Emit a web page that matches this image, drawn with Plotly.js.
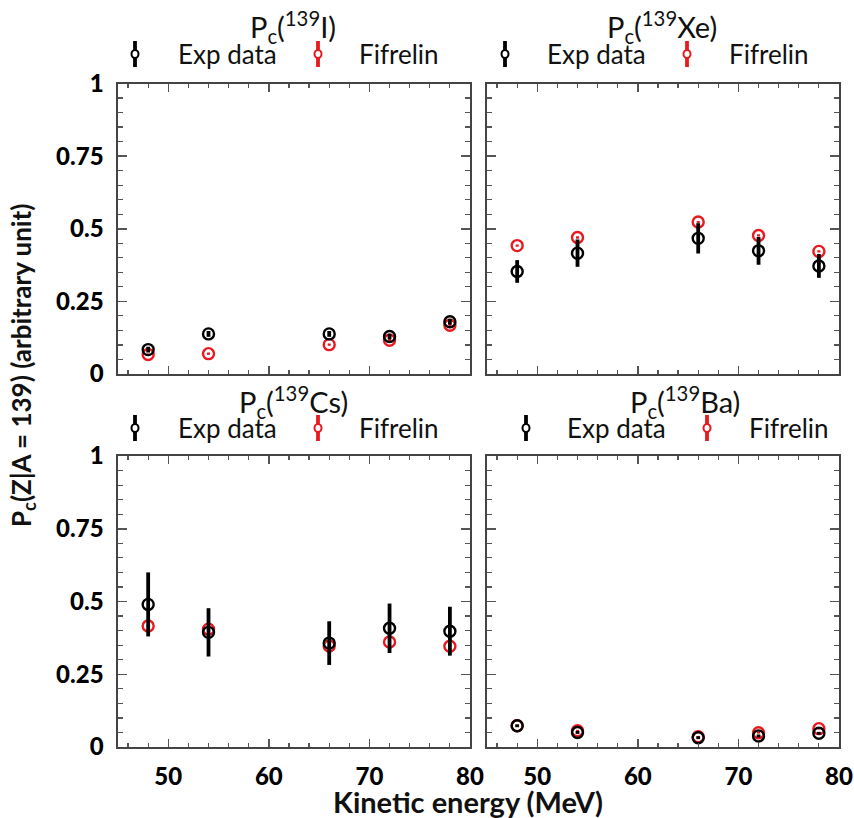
<!DOCTYPE html>
<html>
<head>
<meta charset="utf-8">
<script src="https://cdn.plot.ly/plotly-3.0.1.min.js"></script>
<style>html,body{margin:0;padding:0;background:#fff;}#chart{width:854px;height:818px;}</style>
</head>
<body>
<div id="chart"></div>
<script>
// ---- data ----
const energy = [48, 54, 66, 72, 78];

const I_exp     = [0.084, 0.138, 0.138, 0.129, 0.180];
const I_exp_err = [0.010, 0.010, 0.010, 0.010, 0.010];
const I_fif     = [0.067, 0.070, 0.101, 0.116, 0.168];
const I_fif_err = [0.004, 0.004, 0.004, 0.004, 0.004];

const Xe_exp     = [0.353, 0.416, 0.467, 0.424, 0.372];
const Xe_exp_err = [0.039, 0.047, 0.052, 0.048, 0.041];
const Xe_fif     = [0.442, 0.470, 0.523, 0.477, 0.422];
const Xe_fif_err = [0.004, 0.004, 0.004, 0.004, 0.004];

const Cs_exp     = [0.490, 0.394, 0.357, 0.408, 0.398];
const Cs_exp_err = [0.110, 0.083, 0.075, 0.085, 0.084];
const Cs_fif     = [0.416, 0.405, 0.347, 0.361, 0.346];
const Cs_fif_err = [0.004, 0.004, 0.004, 0.004, 0.004];

const Ba_exp     = [0.073, 0.050, 0.032, 0.038, 0.047];
const Ba_exp_err = [0.005, 0.005, 0.005, 0.005, 0.005];
const Ba_fif     = [0.073, 0.056, 0.035, 0.049, 0.063];
const Ba_fif_err = [0.003, 0.003, 0.003, 0.003, 0.003];

const panelTitles = ['P<sub>c</sub>(<sup>139</sup>I)', 'P<sub>c</sub>(<sup>139</sup>Xe)',
                     'P<sub>c</sub>(<sup>139</sup>Cs)', 'P<sub>c</sub>(<sup>139</sup>Ba)'];
const seriesNames = ['Exp data', 'Fifrelin'];
const yTickVals = [0, 0.25, 0.5, 0.75, 1];
const yTickText = ['0', '0.25', '0.5', '0.75', '1'];
const xTickVals = [50, 60, 70, 80];

// ---- build ----
const W = 854, H = 818;
const RED = '#e8191f';
const px = v => v / W;
const py = v => 1 - v / H;

const panels = [
  {exp: I_exp, ee: I_exp_err, fif: I_fif, fe: I_fif_err, xa: 'x', ya: 'y'},
  {exp: Xe_exp, ee: Xe_exp_err, fif: Xe_fif, fe: Xe_fif_err, xa: 'x2', ya: 'y2'},
  {exp: Cs_exp, ee: Cs_exp_err, fif: Cs_fif, fe: Cs_fif_err, xa: 'x3', ya: 'y3'},
  {exp: Ba_exp, ee: Ba_exp_err, fif: Ba_fif, fe: Ba_fif_err, xa: 'x4', ya: 'y4'}
];

const traces = [];
panels.forEach(p => {
  traces.push({
    x: energy, y: p.fif, xaxis: p.xa, yaxis: p.ya, type: 'scatter', mode: 'markers',
    name: seriesNames[1], showlegend: false, cliponaxis: false,
    marker: {symbol: 'circle-open', size: 11, color: RED, line: {width: 2.4, color: RED}},
    error_y: {type: 'data', array: p.fe, visible: true, color: RED, thickness: 3, width: 0}
  });
  traces.push({
    x: energy, y: p.exp, xaxis: p.xa, yaxis: p.ya, type: 'scatter', mode: 'markers',
    name: seriesNames[0], showlegend: false, cliponaxis: false,
    marker: {symbol: 'circle-open', size: 11, color: '#000', line: {width: 2.4, color: '#000'}},
    error_y: {type: 'data', array: p.ee, visible: true, color: '#000', thickness: 3.8, width: 0}
  });
});

const xL = [px(118), px(470)], xR = [px(487), px(839)];
const yT = [py(374), py(83.5)], yB = [py(747), py(456)];

function xax(domain, anchor, labels) {
  return {
    domain: domain, anchor: anchor, range: [45, 80], tickvals: xTickVals,
    showticklabels: labels, ticks: 'inside', ticklen: 8, tickwidth: 1.5, tickcolor: '#555',
    minor: {dtick: 2, ticks: 'inside', ticklen: 4, tickwidth: 1.2, tickcolor: '#555'},
    showline: true, linecolor: '#444', linewidth: 1.6, mirror: 'allticks',
    showgrid: false, zeroline: false, ticklabelstandoff: 8,
    tickfont: {family: 'Lato', size: 24, color: '#000', weight: 900}
  };
}
function yax(domain, anchor, labels) {
  return {
    domain: domain, anchor: anchor, range: [0, 1], tickvals: yTickVals, ticktext: yTickText,
    showticklabels: labels, ticks: 'inside', ticklen: 9, tickwidth: 1.5, tickcolor: '#555',
    minor: {dtick: 0.05, ticks: 'inside', ticklen: 5, tickwidth: 1.2, tickcolor: '#555'},
    showline: true, linecolor: '#444', linewidth: 1.6, mirror: 'allticks',
    showgrid: false, zeroline: false, ticklabelstandoff: 8,
    tickfont: {family: 'Lato', size: 24, color: '#000', weight: 900}
  };
}

// title / legend placement per panel (pixel positions)
const headers = [
  {tx: 293, ty: 27, ly: 54, m1: 135, t1: 176, m2: 318, t2: 357},
  {tx: 662, ty: 27, ly: 54, m1: 505, t1: 545, m2: 687, t2: 727},
  {tx: 293, ty: 402, ly: 428, m1: 135, t1: 176, m2: 318, t2: 357},
  {tx: 685, ty: 402, ly: 428, m1: 526, t1: 565, m2: 707, t2: 747}
];

const annotations = [];
const shapes = [];
headers.forEach((h, i) => {
  annotations.push({xref: 'paper', yref: 'paper', x: px(h.tx), y: py(h.ty), xanchor: 'center', yanchor: 'middle',
    text: panelTitles[i], showarrow: false, font: {family: 'Lato', size: 29, color: '#111'}});
  annotations.push({xref: 'paper', yref: 'paper', x: px(h.t1), y: py(h.ly), xanchor: 'left', yanchor: 'middle',
    text: seriesNames[0], showarrow: false, font: {family: 'Lato', size: 26, color: '#111'}});
  annotations.push({xref: 'paper', yref: 'paper', x: px(h.t2), y: py(h.ly), xanchor: 'left', yanchor: 'middle',
    text: seriesNames[1], showarrow: false, font: {family: 'Lato', size: 26, color: '#111'}});
  [[h.m1, '#000'], [h.m2, RED]].forEach(([mx, c]) => {
    shapes.push({type: 'line', xref: 'paper', yref: 'paper', x0: px(mx), x1: px(mx), y0: py(h.ly - 13), y1: py(h.ly + 13),
      line: {color: c, width: 3.8}});
    shapes.push({type: 'circle', xref: 'paper', yref: 'paper', xsizemode: 'pixel', ysizemode: 'pixel',
      xanchor: px(mx), yanchor: py(h.ly), x0: -3.5, x1: 3.5, y0: -4, y1: 4,
      fillcolor: '#fff', line: {color: c, width: 2}});
  });
});

annotations.push({xref: 'paper', yref: 'paper', x: px(468), y: py(801), xanchor: 'center', yanchor: 'middle',
  text: '<b>Kinetic energy (MeV)</b>', showarrow: false, font: {family: 'Lato', size: 29, color: '#111'}});
annotations.push({xref: 'paper', yref: 'paper', x: px(22), y: py(366), xanchor: 'center', yanchor: 'middle', textangle: -90,
  text: '<b>P<sub>c</sub>(Z|A = 139) (arbitrary unit)</b>', showarrow: false, font: {family: 'Lato', size: 26, color: '#111'}});

const layout = {
  width: W, height: H, margin: {l: 0, r: 0, t: 0, b: 0},
  paper_bgcolor: '#fff', plot_bgcolor: '#fff', showlegend: false,
  xaxis: xax(xL, 'y', false), yaxis: yax(yT, 'x', true),
  xaxis2: xax(xR, 'y2', false), yaxis2: yax(yT, 'x2', false),
  xaxis3: xax(xL, 'y3', true), yaxis3: yax(yB, 'x3', true),
  xaxis4: xax(xR, 'y4', true), yaxis4: yax(yB, 'x4', false),
  annotations: annotations, shapes: shapes
};

Plotly.newPlot('chart', traces, layout, {displayModeBar: false, staticPlot: true});
</script>
</body>
</html>
